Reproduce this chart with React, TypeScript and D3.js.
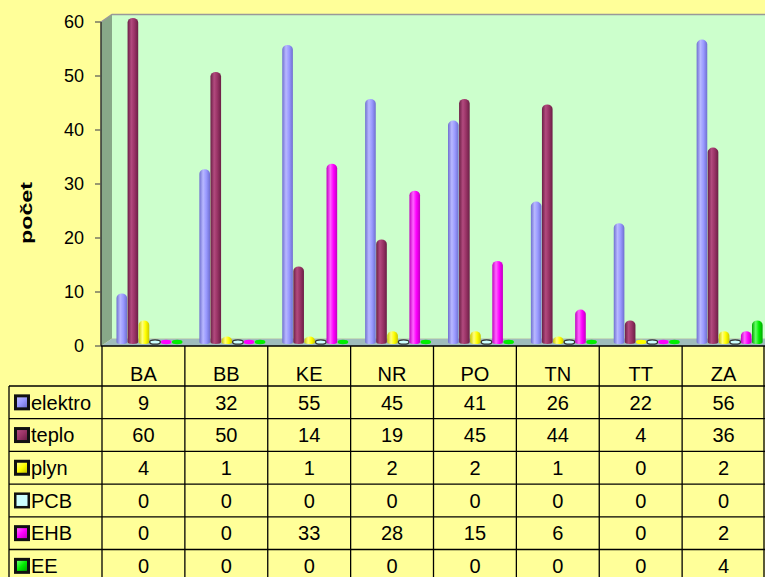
import * as d3 from 'd3';

const categories = ['BA', 'BB', 'KE', 'NR', 'PO', 'TN', 'TT', 'ZA'];
const seriesNames = ['elektro', 'teplo', 'plyn', 'PCB', 'EHB', 'EE'];
const elektro = [9, 32, 55, 45, 41, 26, 22, 56];
const teplo = [60, 50, 14, 19, 45, 44, 4, 36];
const plyn = [4, 1, 1, 2, 2, 1, 0, 2];
const pcb = [0, 0, 0, 0, 0, 0, 0, 0];
const ehb = [0, 0, 33, 28, 15, 6, 0, 2];
const ee = [0, 0, 0, 0, 0, 0, 0, 4];
const yTicks = [0, 10, 20, 30, 40, 50, 60];

const seriesValues = [elektro, teplo, plyn, pcb, ehb, ee];

// base, edge (dark), highlight
const palette: [string, string, string][] = [
  ['#9999ff', '#6f6fd0', '#b8b8ff'],
  ['#993366', '#6a1f45', '#b24a7e'],
  ['#ffff00', '#c8c800', '#ffff80'],
  ['#ccffff', '#99cccc', '#eeffff'],
  ['#ff00ff', '#c000c0', '#ff66ff'],
  ['#00ee00', '#00a800', '#66ff66'],
];

const W = 765;
const H = 577;
const depthX = 11;
const depthY = 7.5;
const plotLeft = 101;
const plotRight = 765;
const tableLeft = 9;
const headerTop = 346;
const headerBottom = 386;
const rowH = 32.7;

export default function App() {
  const y = d3.scaleLinear().domain([0, 60]).range([346, 22]);
  const x = d3.scaleBand<string>().domain(categories).range([102, 765]);
  const xs = d3
    .scaleBand<string>()
    .domain(seriesNames)
    .range([14.5, 80.5])
    .paddingInner(0.04);

  const barShift = 4;
  const base = y(0) - barShift;
  const bw = xs.bandwidth();

  const barPath = (x0: number, v: number) => {
    const yt = y(v) - barShift;
    const r = bw / 2;
    const capRy = Math.min(4.5, (base - yt) * 0.8);
    return `M${x0},${base} L${x0},${yt + capRy} A${r},${capRy} 0 0 1 ${x0 + bw},${yt + capRy} L${x0 + bw},${base} A${r},2 0 0 1 ${x0},${base} Z`;
  };

  const rowTop = (i: number) => headerBottom + i * rowH;

  return (
    <svg
      width={W}
      height={H}
      style={{ position: 'fixed', left: 0, top: 0, fontFamily: 'Arial, "Liberation Sans", sans-serif' }}
    >
      <defs>
        {palette.map((c, i) => (
          <linearGradient key={i} id={`cyl-${i}`} x1="0" x2="1" y1="0" y2="0">
            <stop offset="0%" stopColor={c[1]} />
            <stop offset="35%" stopColor={c[2]} />
            <stop offset="65%" stopColor={c[0]} />
            <stop offset="100%" stopColor={c[1]} />
          </linearGradient>
        ))}
        {palette.map((c, i) => (
          <linearGradient key={i} id={`key-${i}`} x1="0" x2="1" y1="0" y2="1">
            <stop offset="0%" stopColor={c[2]} />
            <stop offset="50%" stopColor={c[0]} />
            <stop offset="100%" stopColor={c[1]} />
          </linearGradient>
        ))}
      </defs>

      <rect x={0} y={0} width={W} height={H} fill="#ffff99" />

      {/* walls */}
      <rect x={plotLeft + depthX} y={22 - depthY} width={plotRight - plotLeft - depthX} height={346 - 22} fill="#ccffcc" />
      <polygon
        points={`${plotLeft},22 ${plotLeft + depthX},${22 - depthY} ${plotLeft + depthX},${346 - depthY} ${plotLeft},346`}
        fill="#88a888"
      />
      <polygon
        points={`${plotLeft},346 ${plotLeft + depthX},${346 - depthY} ${plotRight},${346 - depthY} ${plotRight},346`}
        fill="#9fbcbc"
      />
      <polyline
        points={`${plotLeft},22 ${plotLeft + depthX},${22 - depthY} ${plotRight},${22 - depthY}`}
        fill="none"
        stroke="#999999"
        strokeWidth={1.5}
      />

      {/* y axis */}
      <line x1={plotLeft} x2={plotLeft} y1={22} y2={346} stroke="#333" strokeWidth={1.5} />
      {yTicks.map((t) => (
        <g key={t}>
          <line x1={95} x2={plotLeft} y1={y(t)} y2={y(t)} stroke="#555" strokeWidth={1.2} />
          <text x={84} y={y(t)} dy="0.36em" textAnchor="end" fontSize={18} fill="#000">
            {t}
          </text>
        </g>
      ))}
      <text
        transform="translate(32,213) rotate(-90)"
        textAnchor="middle"
        fontSize={16}
        fontWeight="bold"
        textLength={62}
        lengthAdjust="spacingAndGlyphs"
      >
        počet
      </text>

      {/* bars */}
      {categories.map((c, ci) => (
        <g key={c} transform={`translate(${x(c)},0)`}>
          {seriesNames.map((s, si) => {
            const v = seriesValues[si][ci];
            const x0 = xs(s)!;
            if (v === 0) {
              return (
                <ellipse
                  key={s}
                  cx={x0 + bw / 2}
                  cy={base}
                  rx={bw / 2}
                  ry={2.2}
                  fill={si === 3 ? '#ccffff' : palette[si][0]}
                  stroke={si === 3 ? '#333' : 'none'}
                  strokeWidth={1.3}
                />
              );
            }
            return <path key={s} d={barPath(x0, v)} fill={`url(#cyl-${si})`} />;
          })}
        </g>
      ))}

      {/* table */}
      <g stroke="#000" strokeWidth={1.3}>
        <line x1={plotLeft} x2={plotRight} y1={headerTop} y2={headerTop} />
        <line x1={tableLeft} x2={plotRight} y1={headerBottom} y2={headerBottom} />
        {seriesNames.slice(1).map((s, i) => (
          <line key={s} x1={tableLeft} x2={plotRight} y1={rowTop(i + 1)} y2={rowTop(i + 1)} />
        ))}
        <line x1={tableLeft} x2={tableLeft} y1={headerBottom} y2={H} />
        {categories.map((c) => (
          <line key={c} x1={x(c)!} x2={x(c)!} y1={headerTop} y2={H} />
        ))}
        <line x1={764} x2={764} y1={headerTop} y2={H} />
      </g>

      {categories.map((c) => (
        <text key={c} x={x(c)! + x.bandwidth() / 2} y={381} textAnchor="middle" fontSize={20}>
          {c}
        </text>
      ))}

      {seriesNames.map((s, si) => {
        const cy = rowTop(si) + rowH / 2;
        return (
          <g key={s}>
            <rect x={14} y={cy - 8} width={16} height={16} fill="#111" />
            {si === 3 ? (
              <rect x={16.5} y={cy - 5.5} width={11} height={11} fill="#ccffff" />
            ) : (
              <rect x={17} y={cy - 5} width={10} height={10} fill={`url(#key-${si})`} />
            )}
            <text x={31} y={cy} dy="0.36em" fontSize={20}>
              {s}
            </text>
            {categories.map((c, ci) => (
              <text key={c} x={x(c)! + x.bandwidth() / 2} y={cy} dy="0.36em" textAnchor="middle" fontSize={20}>
                {seriesValues[si][ci]}
              </text>
            ))}
          </g>
        );
      })}
    </svg>
  );
}
